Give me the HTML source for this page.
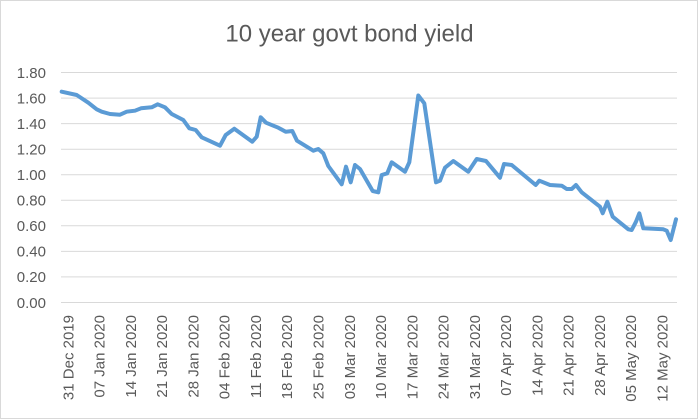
<!DOCTYPE html>
<html>
<head>
<meta charset="utf-8">
<style>
  html,body{margin:0;padding:0;background:#fff;}
  svg{display:block;}
  text{font-family:"Liberation Sans",Arial,sans-serif;fill:#595959;}
</style>
</head>
<body>
<svg width="699" height="420" viewBox="0 0 699 420" xmlns="http://www.w3.org/2000/svg">
  <rect x="0" y="0" width="699" height="420" fill="#fff"/>
  <rect x="0.5" y="0.5" width="697" height="418" fill="none" stroke="#d9d9d9" stroke-width="1"/>

  <text x="349.5" y="41.5" font-size="24" text-anchor="middle">10 year govt bond yield</text>

  <!-- gridlines -->
  <g stroke="#d9d9d9" stroke-width="1">
    <line x1="61" y1="72.5" x2="677" y2="72.5"/>
    <line x1="61" y1="98.1" x2="677" y2="98.1"/>
    <line x1="61" y1="123.6" x2="677" y2="123.6"/>
    <line x1="61" y1="149.2" x2="677" y2="149.2"/>
    <line x1="61" y1="174.7" x2="677" y2="174.7"/>
    <line x1="61" y1="200.3" x2="677" y2="200.3"/>
    <line x1="61" y1="225.8" x2="677" y2="225.8"/>
    <line x1="61" y1="251.4" x2="677" y2="251.4"/>
    <line x1="61" y1="276.9" x2="677" y2="276.9"/>
    <line x1="61" y1="302.5" x2="677" y2="302.5"/>
  </g>

  <!-- y labels -->
  <g font-size="15" text-anchor="end">
    <text x="46" y="77.8">1.80</text>
    <text x="46" y="103.4">1.60</text>
    <text x="46" y="128.9">1.40</text>
    <text x="46" y="154.5">1.20</text>
    <text x="46" y="180.0">1.00</text>
    <text x="46" y="205.6">0.80</text>
    <text x="46" y="231.1">0.60</text>
    <text x="46" y="256.7">0.40</text>
    <text x="46" y="282.2">0.20</text>
    <text x="46" y="307.8">0.00</text>
  </g>

  <!-- x labels -->
  <g font-size="15" text-anchor="end">
    <text transform="translate(73.4,315) rotate(-90)">31 Dec 2019</text>
    <text transform="translate(104.7,315) rotate(-90)">07 Jan 2020</text>
    <text transform="translate(135.9,315) rotate(-90)">14 Jan 2020</text>
    <text transform="translate(167.2,315) rotate(-90)">21 Jan 2020</text>
    <text transform="translate(198.4,315) rotate(-90)">28 Jan 2020</text>
    <text transform="translate(229.7,315) rotate(-90)">04 Feb 2020</text>
    <text transform="translate(261.0,315) rotate(-90)">11 Feb 2020</text>
    <text transform="translate(292.2,315) rotate(-90)">18 Feb 2020</text>
    <text transform="translate(323.4,315) rotate(-90)">25 Feb 2020</text>
    <text transform="translate(354.8,315) rotate(-90)">03 Mar 2020</text>
    <text transform="translate(386.0,315) rotate(-90)">10 Mar 2020</text>
    <text transform="translate(417.3,315) rotate(-90)">17 Mar 2020</text>
    <text transform="translate(448.4,315) rotate(-90)">24 Mar 2020</text>
    <text transform="translate(479.8,315) rotate(-90)">31 Mar 2020</text>
    <text transform="translate(511.1,315) rotate(-90)">07 Apr 2020</text>
    <text transform="translate(542.4,315) rotate(-90)">14 Apr 2020</text>
    <text transform="translate(573.6,315) rotate(-90)">21 Apr 2020</text>
    <text transform="translate(604.9,315) rotate(-90)">28 Apr 2020</text>
    <text transform="translate(636.1,315) rotate(-90)">05 May 2020</text>
    <text transform="translate(667.4,315) rotate(-90)">12 May 2020</text>
  </g>

  <!-- series -->
  <polyline fill="none" stroke="#5b9bd5" stroke-width="4" stroke-linejoin="round" stroke-linecap="round"
    points="61.7,91.7 76.7,95 88.3,102.7 96.7,109.3 101.7,111.7 110,114 120,114.7 126.7,111.7 135,110.7 141,108.3 151.7,107.3 157.7,104.3 165,107.3 171.7,114 183.3,120 189.3,128.3 195.7,130 201.7,137.3 220,145.7 225.7,135 234.3,128.7 252.3,141.7 256.7,136.7 260.7,117.3 266,122.7 278.3,127.7 285.7,131.7 292.3,131 297,140.7 313.3,150.7 318.3,149 323.3,153.3 328.3,166 341.7,184.3 346,166.7 350.7,182.3 355,165 360,169 372.7,191 378.3,192.3 381.7,175 387.3,173.3 391.7,162.3 405,171.7 409.3,162.3 418.3,95.5 424.3,103.3 436,182.3 440,180.7 445,167.7 453.3,161 468.3,171.7 476.7,159 486,161 500,177.7 504,164 511.7,165 535.7,185 539.3,180.7 550,185 561.7,185.7 566.7,189 571.7,189 576,185 581.7,192.3 600,206.7 602.7,213.3 607.3,201.7 612.7,216.7 628.3,229.3 631.7,230 636,221.7 639.3,213.3 643.3,228.3 663.3,229.3 666.7,230.7 670.7,240 676,219.3"/>
</svg>
</body>
</html>
